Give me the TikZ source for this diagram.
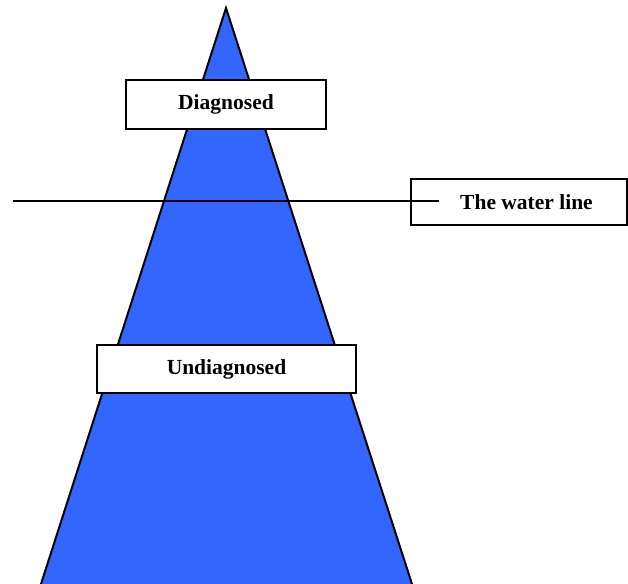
\documentclass[tikz,border=0pt]{standalone}
\usepackage{fontspec}
\setmainfont{Liberation Serif}
\usepackage{tikz}
\usepackage{xcolor}
\usetikzlibrary{positioning,calc}
\definecolor{ink}{HTML}{000000}
\definecolor{iceblue}{HTML}{3366FF}
\tikzset{
  labelbox/.style={draw=ink,fill=white,line width=0.75pt,
                   inner sep=0pt,align=center,
                   font=\fontsize{10.75}{13}\selectfont\bfseries},
  iceedge/.style={draw=ink,line width=1pt},
  waterline/.style={draw=ink,line width=1pt}
}
\begin{document}
\begin{tikzpicture}[x=0.5pt,y=-0.5pt]
  \useasboundingbox (0,0) rectangle (628,584);
  % the iceberg
  \coordinate (apex) at (226,8);
  \coordinate (baseL) at (41,584);
  \coordinate (baseR) at (412,584);
  \fill[iceblue] (baseL) -- (apex) -- (baseR) -- cycle;
  \draw[iceedge] (baseL) -- (apex) -- (baseR);
  % labels
  \node[labelbox,minimum width=100pt,minimum height=24.5pt] (diag) at (226,104.5) {Diagnosed};
  \node[labelbox,minimum width=129.5pt,minimum height=24pt] (undiag) at (226.5,369) {Undiagnosed};
  \node[labelbox,minimum width=108pt,minimum height=23pt] (water) at (519,202) {\hspace*{7.5pt}The water line};
  % the water line
  \coordinate (wl) at (13,201);
  \coordinate (wr) at (439,201);
  \draw[waterline] (wl) -- (wr);
\end{tikzpicture}
\end{document}
